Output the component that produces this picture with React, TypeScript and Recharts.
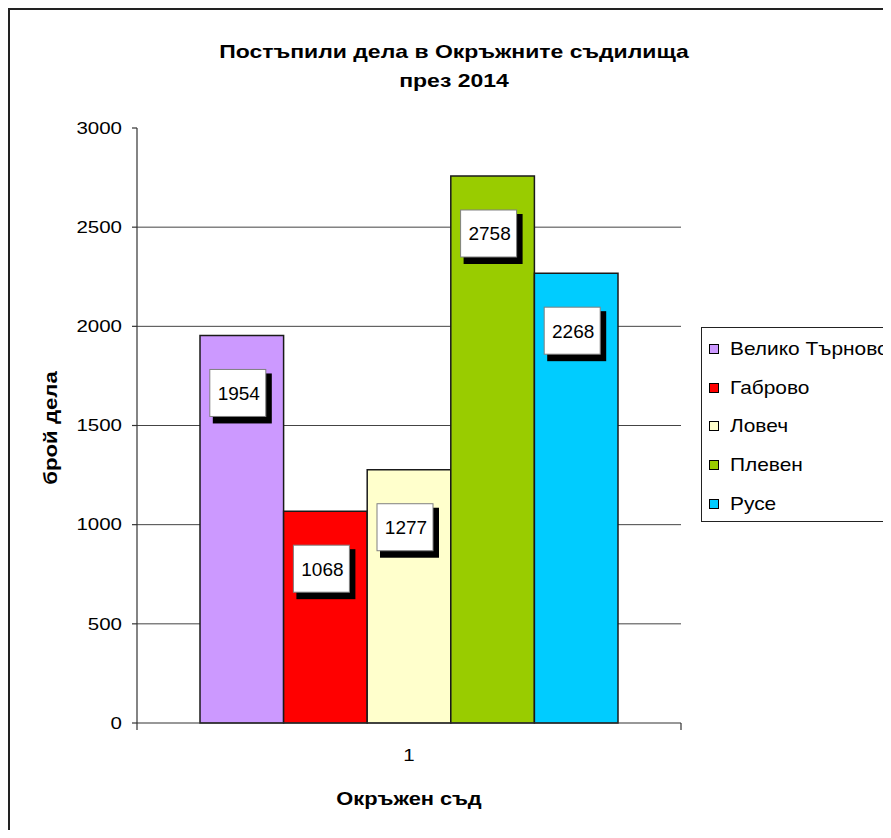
import React from 'react';
import { BarChart, Bar, XAxis, YAxis, CartesianGrid, Legend, LabelList } from 'recharts';

const categories = ['1'];
const courts = ['Велико Търново', 'Габрово', 'Ловеч', 'Плевен', 'Русе'];
const cases = [1954, 1068, 1277, 2758, 2268];
const colors = ['#CC99FF', '#FF0000', '#FFFFCC', '#99CC00', '#00CCFF'];
const yTicks = [0, 500, 1000, 1500, 2000, 2500, 3000];
const gridValues = [500, 1000, 1500, 2000, 2500];
const titleLines = ['Постъпили дела в Окръжните съдилища', 'през 2014'];
const yAxisTitle = 'брой дела';
const xAxisTitle = 'Окръжен съд';

const keys = courts.map((_, i) => `s${i}`);
const data = categories.map((c) => {
  const row: Record<string, string | number> = { cat: c };
  keys.forEach((k, i) => {
    row[k] = cases[i];
  });
  return row;
});

const FONT = '"Liberation Sans", Arial, sans-serif';

const YTick = (props: any) => {
  const { x, y, payload } = props;
  return (
    <g transform={`translate(${x},${y})`}>
      <text x={0} y={0} dy={5.8} textAnchor="end" transform="scale(1.28,1)" fontFamily={FONT} fontSize={16} fill="#000">
        {payload.value}
      </text>
    </g>
  );
};

const XTick = (props: any) => {
  const { x, y, payload, width } = props;
  const half = width / 2;
  return (
    <g>
      <line x1={x - half} y1={y} x2={x - half} y2={y + 7} stroke="#333" strokeWidth={1.2} />
      <line x1={x + half} y1={y} x2={x + half} y2={y + 7} stroke="#333" strokeWidth={1.2} />
      <g transform={`translate(${x},${y + 38})`}>
        <text x={0} y={0} textAnchor="middle" transform="scale(1.28,1)" fontFamily={FONT} fontSize={16} fill="#000">
          {payload.value}
        </text>
      </g>
    </g>
  );
};

const ValueLabel = (props: any) => {
  const { x, y, width, value } = props;
  const bw = 56;
  const bh = 47;
  const bx = x + width / 2 - 4 - bw / 2;
  const by = y + 34;
  return (
    <g>
      <rect x={bx + 3} y={by + 4} width={bw + 3} height={bh + 3} fill="#000" />
      <rect x={bx} y={by} width={bw} height={bh} fill="#fff" stroke="#808080" strokeWidth={1} />
      <text x={bx + bw / 2 + 1} y={by + bh / 2 + 7} textAnchor="middle" fontFamily={FONT} fontSize={19} fill="#000">
        {value}
      </text>
    </g>
  );
};

const LegendBox = () => (
  <div
    style={{
      position: 'relative',
      width: 200,
      height: 195,
      boxSizing: 'border-box',
      border: '1.5px solid #222',
      background: '#fff',
      fontFamily: FONT,
    }}
  >
    {courts.map((name, i) => (
      <div key={name} style={{ position: 'absolute', left: 0, top: 21 + i * 38.7 - 12, height: 24, width: 200 }}>
        <div
          style={{
            position: 'absolute',
            left: 7,
            top: 7,
            width: 10,
            height: 10,
            boxSizing: 'border-box',
            border: '1.5px solid #000',
            background: colors[i],
          }}
        />
        <div
          style={{
            position: 'absolute',
            left: 28,
            top: 0,
            lineHeight: '24px',
            fontSize: 19,
            color: '#000',
            whiteSpace: 'nowrap',
            transform: 'scaleX(1.1)',
            transformOrigin: 'left center',
          }}
        >
          {name}
        </div>
      </div>
    ))}
  </div>
);

export default function App() {
  return (
    <div
      style={{
        width: 883,
        height: 822,
        overflow: 'hidden',
        borderTop: '2px solid #222',
        borderLeft: '2px solid #222',
        boxSizing: 'border-box',
        background: '#fff',
      }}
    >
      <BarChart
        width={881}
        height={820}
        data={data}
        margin={{ top: 118, right: 210, bottom: 67, left: 67 }}
        barSize={83.6}
        barGap={0}
      >
        <CartesianGrid horizontal vertical={false} horizontalValues={gridValues} stroke="#444" strokeWidth={1} />
        <XAxis
          dataKey="cat"
          height={40}
          tickSize={0}
          tickMargin={0}
          tickLine={false}
          axisLine={{ stroke: '#333', strokeWidth: 1.2 }}
          tick={<XTick />}
        />
        <YAxis
          width={60}
          domain={[0, 3000]}
          ticks={yTicks}
          interval={0}
          tickSize={5}
          tickMargin={10}
          axisLine={{ stroke: '#333', strokeWidth: 1.2 }}
          tickLine={{ stroke: '#333', strokeWidth: 1.2 }}
          tick={<YTick />}
        />
        <Legend
          layout="vertical"
          align="center"
          verticalAlign="middle"
          wrapperStyle={{ left: 691, top: 317, width: 200, height: 195 }}
          content={<LegendBox />}
        />
        {keys.map((k, i) => (
          <Bar key={k} dataKey={k} name={courts[i]} fill={colors[i]} stroke="#1a1a1a" strokeWidth={1.5} isAnimationActive={false}>
            <LabelList dataKey={k} content={<ValueLabel />} />
          </Bar>
        ))}
        <g transform="translate(444,47.7)">
          <text x={0} y={0} textAnchor="middle" transform="scale(1.21,1)" fontFamily={FONT} fontSize={19} fontWeight="bold" fill="#000">
            {titleLines[0]}
          </text>
        </g>
        <g transform="translate(444,76.7)">
          <text x={0} y={0} textAnchor="middle" transform="scale(1.21,1)" fontFamily={FONT} fontSize={19} fontWeight="bold" fill="#000">
            {titleLines[1]}
          </text>
        </g>
        <g transform="translate(47,418) rotate(-90)">
          <text x={0} y={0} textAnchor="middle" transform="scale(1.2,1)" fontFamily={FONT} fontSize={18.5} fontWeight="bold" fill="#000">
            {yAxisTitle}
          </text>
        </g>
        <g transform="translate(399,795)">
          <text x={0} y={0} textAnchor="middle" transform="scale(1.15,1)" fontFamily={FONT} fontSize={19} fontWeight="bold" fill="#000">
            {xAxisTitle}
          </text>
        </g>
      </BarChart>
    </div>
  );
}
